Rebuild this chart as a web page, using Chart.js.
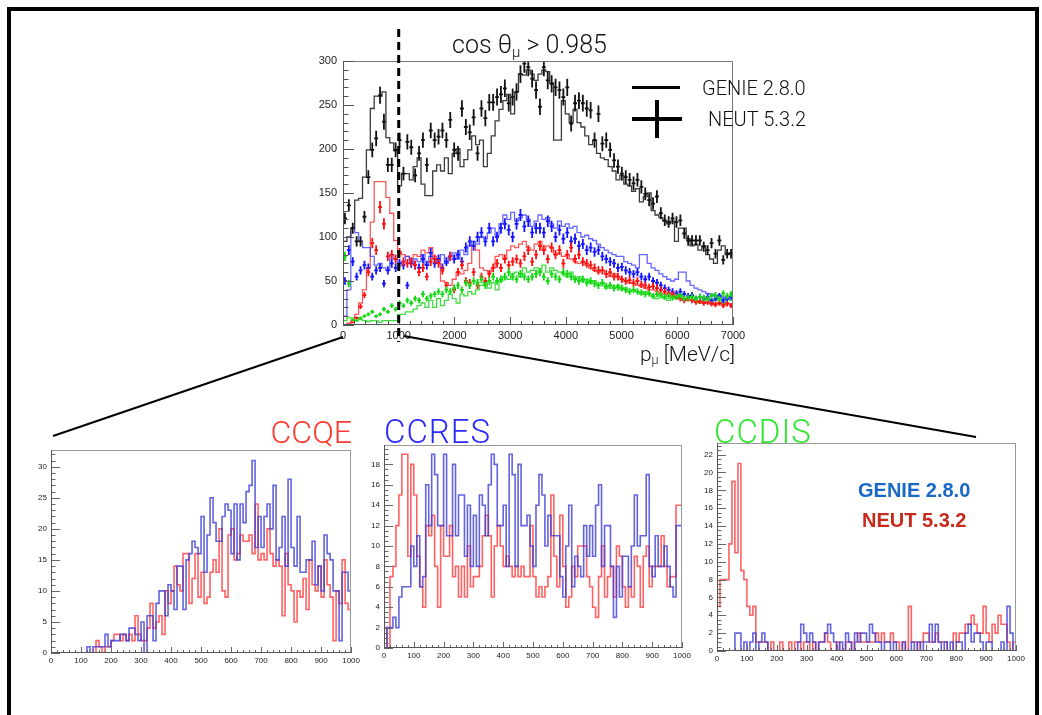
<!DOCTYPE html>
<html>
<head>
<meta charset="utf-8">
<script src="https://cdn.jsdelivr.net/npm/chart.js@4.4.0/dist/chart.umd.min.js"></script>
<style>
  body { margin: 0; width: 1042px; height: 715px; overflow: hidden; position: relative; background: #fff;
         font-family: "Liberation Sans", Arial, sans-serif; }
  canvas { position: absolute; }
  .frame { position: absolute; left: 7px; top: 7px; width: 1032px; height: 800px; border: 4px solid #000; box-sizing: border-box; }
  .txt { position: absolute; white-space: nowrap; line-height: 1; }
  .txt sub { font-size: 0.6em; vertical-align: -0.25em; }
  .light { font-family: Roboto, "Liberation Sans", sans-serif; font-weight: 300; }
  .bar { position: absolute; background: #000; }
</style>
</head>
<body>
<div class="frame"></div>
<canvas id="topChart"></canvas>
<canvas id="ccqeChart"></canvas>
<canvas id="ccresChart"></canvas>
<canvas id="ccdisChart"></canvas>

<div class="txt light" style="left:452px; top:32px; font-size:25px; color:#111;">cos &theta;<sub>&mu;</sub> &gt; 0.985</div>
<div class="txt light" style="right:307px; top:344px; font-size:21px; color:#111;">p<sub>&mu;</sub> [MeV/c]</div>
<div class="bar" style="left:632px; top:86px; width:48px; height:3px;"></div>
<div class="txt light" style="left:702px; top:78px; font-size:20px; color:#111;">GENIE 2.8.0</div>
<div class="bar" style="left:632px; top:117px; width:50px; height:4px;"></div>
<div class="bar" style="left:655px; top:100px; width:4px; height:38px;"></div>
<div class="txt light" style="left:708px; top:109px; font-size:20px; color:#111;">NEUT 5.3.2</div>

<div class="txt light" style="right:690px; top:416px; font-size:32px; color:#ff3b2f;">CCQE</div>
<div class="txt light" style="left:384px; top:415px; font-size:33px; letter-spacing:1px; color:#2a2aff;">CCRES</div>
<div class="txt light" style="left:714px; top:415px; font-size:33px; letter-spacing:1px; color:#33e633;">CCDIS</div>
<div class="txt" style="left:858px; top:480px; font-size:20px; font-weight:bold; color:#1a68c6;">GENIE 2.8.0</div>
<div class="txt" style="left:862px; top:510px; font-size:20px; font-weight:bold; color:#c62a1a;">NEUT 5.3.2</div>

<script>
// muon momentum spectra, cos(theta) > 0.985 ; 100 bins of 70 MeV/c from 0 to 7000
const topBinWidth = 70;
const cutMomentum = 1000;

// GENIE 2.8.0 (histograms)
const genieTotal = [95,100,110,142,144,168,199,246,260,260, 265,213,207,198,158,172,172,165,180,190,
  160,147,147,175,182,175,190,172,195,200, 180,188,199,215,205,210,180,195,215,232,
  245,255,262,240,265,285,284,290,285,278, 285,290,288,275,210,210,255,240,230,245,
  230,225,215,205,210,195,190,188,180,175, 165,170,160,158,152,155,140,146,150,130,
  125,122,118,115,118,95,110,110,98,90, 92,85,90,80,75,70,85,90,80,82];
const genieCCQE = [0,2,5,12,25,40,65,117,163,163, 163,145,127,96,83,80,78,75,80,78,
  85,82,88,78,70,50,48,45,52,60, 58,62,70,90,85,65,62,60,65,78,
  80,75,85,90,88,92,95,88,85,92, 95,85,90,88,80,82,78,80,75,72,
  70,72,68,65,62,60,62,58,55,58, 55,52,50,48,47,45,44,42,40,40,
  38,36,35,33,34,32,30,30,28,28, 27,26,26,25,24,25,24,23,25,24];
const genieCCRES = [10,40,110,105,95,88,88,78,68,70, 65,62,80,75,70,72,78,70,75,72,
  80,68,78,75,72,80,70,78,82,75, 85,80,90,95,92,100,98,105,110,102,
  115,125,120,128,118,122,125,120,112,118, 125,120,122,115,110,118,112,115,110,112,
  105,100,102,98,96,92,88,85,82,80, 78,78,72,70,68,65,80,80,70,65,
  62,58,55,52,50,52,60,60,50,45, 42,40,38,36,35,33,34,32,30,32];
const genieCCDIS = [5,8,8,8,6,5,4,5,5,3, 5,5,5,5,12,12,15,15,18,22,
  25,20,28,20,30,22,28,35,30,25, 35,33,38,35,40,45,48,42,48,40,
  50,55,52,58,60,55,65,60,62,65, 60,68,60,65,62,60,58,55,60,52,
  55,50,52,48,50,45,48,42,45,42, 45,40,42,38,40,38,35,38,35,32,
  30,33,30,28,32,30,35,28,30,32, 28,25,28,30,25,28,32,25,30,28];

// NEUT 5.3.2 (points with errors)
const neutTotal = [121,136,110,95,95,123,168,199,212,261, 231,182,182,199,210,172,208,202,170,195,
  210,182,221,210,214,221,210,233,199,195, 246,225,219,236,195,246,235,253,253,259,
  262,269,252,259,265,285,297,293,280,267, 248,293,278,274,270,267,259,270,229,252,
  255,252,246,244,210,240,206,210,199,187, 180,172,168,165,161,165,157,149,142,138,
  146,127,119,117,121,117,119,104,96,96, 96,96,89,85,93,81,96,74,81,81];
const neutCCQE = [0,0,3,8,21,34,60,93,85,134, 115,78,80,75,82,72,70,72,68,60,
  65,55,72,75,70,62,45,78,40,60, 68,50,48,60,45,55,50,58,65,70,
  65,75,68,72,75,70,78,85,72,80, 90,85,75,88,80,85,70,80,88,75,
  80,72,70,68,65,62,62,58,60,55, 55,52,50,51,48,50,46,45,43,44,
  42,40,38,36,35,32,30,28,30,28, 26,27,25,26,24,23,25,22,24,22];
const neutCCRES = [50,85,72,55,62,68,65,55,62,65, 47,62,70,65,70,68,45,70,68,65,
  75,68,82,70,75,65,72,78,75,80, 72,88,95,90,100,105,95,110,95,100,
  110,115,108,100,115,125,112,118,105,110, 110,105,118,112,100,108,98,105,95,98,
  90,92,85,88,83,85,78,75,72,70, 65,66,62,60,58,60,55,52,55,50,
  48,45,42,40,38,36,38,35,33,34, 30,32,30,32,28,30,33,28,30,32];
const neutCCDIS = [78,47,6,5,8,10,12,15,10,12, 18,15,22,18,25,22,28,25,30,28,
  35,30,33,35,38,35,40,38,42,45, 40,48,45,50,48,52,45,50,55,50,
  52,55,60,55,52,58,55,52,55,58, 60,55,50,58,55,52,60,58,55,52,
  50,52,48,50,47,45,48,44,45,42, 43,42,40,38,40,38,37,35,36,33,
  35,34,32,33,31,32,33,30,31,32, 30,32,31,30,33,34,30,36,33,35];

// low momentum region 0-1000 MeV/c, 10 MeV/c bins
const lowBinWidth = 10;
const ccqeGenie = [0,0,0,0,0,0,0,0,0,0, 0,0,1,0,1,1,1,1,3,1,
  2,2,2,3,3,2,4,4,3,2, 5,0,6,6,2,8,10,10,6,11,
  10,7,14,14,7,15,16,18,17,16, 22,13,19,25,21,18,18,22,24,23,
  16,24,15,24,21,26,27,31,17,22, 17,22,24,20,27,15,17,22,14,28,
  17,14,22,13,13,15,15,18,11,14, 10,19,16,15,10,10,2,13,13,10];
const ccqeNeut = [0,0,0,0,0,0,0,0,0,0, 0,0,0,0,0,2,1,0,1,1,
  2,3,3,2,3,2,3,2,6,3, 2,2,4,8,4,5,6,3,10,8,
  10,14,11,10,16,16,8,12,16,9, 13,8,9,13,15,13,20,10,9,19,
  20,15,16,19,18,18,19,16,24,15, 16,15,20,16,14,15,14,6,16,11,
  10,5,10,9,12,7,15,11,10,14, 9,15,11,9,2,10,8,15,8,7];
const ccresGenie = [0,2,2,3,2,5,6,6,6,10, 8,11,6,7,16,12,19,17,12,12,
  19,11,11,18,11,15,15,9,14,8, 13,8,15,14,11,16,19,18,12,12,
  14,8,19,17,8,18,12,12,13,10, 8,14,17,15,10,13,11,11,11,7,
  5,10,14,6,9,8,7,12,9,12, 9,14,16,8,12,12,8,3,8,5,
  9,9,6,10,15,10,11,11,17,8, 7,11,8,8,10,8,6,5,12,12];
const ccresNeut = [2,0,7,8,12,15,19,19,9,18, 15,9,6,4,12,11,13,8,4,12,
  9,9,12,7,8,5,8,5,10,6, 7,7,8,11,13,11,5,10,12,10,
  8,9,8,7,8,7,8,7,7,12, 7,5,6,5,6,7,15,9,6,13,
  8,4,5,8,7,10,10,10,7,6, 4,3,7,10,5,7,8,5,10,9,
  6,4,6,5,9,8,4,9,10,6, 8,8,8,11,8,6,7,7,14,14];
const ccdisGenie = [0,0,0,0,0,0,2,2,0,1, 0,1,2,0,1,2,1,0,0,0,
  0,0,0,0,0,0,0,1,3,2, 1,2,1,0,1,1,2,3,2,1,
  0,1,0,2,1,0,2,1,2,2, 1,3,2,1,1,0,1,1,0,1,
  0,0,1,0,0,1,0,1,0,1, 1,3,1,3,1,0,1,0,1,0,
  1,1,0,2,3,1,2,2,1,0, 1,1,0,0,0,1,0,5,2,0];
const ccdisNeut = [5,8,8,8,12,19,11,21,9,8, 5,4,5,1,1,1,1,0,1,0,
  0,1,0,0,1,0,1,1,0,1, 1,0,1,0,1,1,2,1,0,0,
  1,0,0,1,1,0,1,2,1,1, 1,1,1,2,1,2,1,1,2,1,
  1,0,1,0,5,1,1,0,1,2, 2,1,1,2,1,1,1,0,0,2,
  1,2,2,3,3,4,3,2,2,5, 2,1,3,2,4,3,3,1,0,1];

// step outline from bin contents (ROOT "HIST" look)
function histOutline(values, width) {
  const pts = [{x: 0, y: 0}];
  values.forEach((v, i) => pts.push({x: i * width, y: v}));
  pts.push({x: values.length * width, y: values[values.length - 1]});
  return pts;
}
function binCentres(values, width) {
  return values.map((v, i) => ({x: (i + 0.5) * width, y: v}));
}
function histDataset(values, width, color, lw) {
  return { data: histOutline(values, width), borderColor: color, borderWidth: lw,
           stepped: 'before', pointRadius: 0, fill: false };
}
function pointsDataset(values, width, color) {
  return { data: binCentres(values, width), showLine: false, pointRadius: 0,
           crossColor: color, binWidth: width };
}

// data points drawn as error crosses (bin width x stat. error)
const crossPlugin = {
  id: 'crosses',
  afterDatasetsDraw(chart) {
    const {ctx, chartArea: a} = chart;
    const xs = chart.scales.x, ys = chart.scales.y;
    ctx.save();
    ctx.beginPath();
    ctx.rect(a.left, a.top, a.width, a.height);
    ctx.clip();
    ctx.lineWidth = 1.8;
    chart.data.datasets.forEach(ds => {
      if (!ds.crossColor) return;
      ctx.strokeStyle = ds.crossColor;
      ctx.beginPath();
      ds.data.forEach(p => {
        if (p.y <= 0) return;
        const err = 0.6 * Math.sqrt(p.y);
        const px = xs.getPixelForValue(p.x);
        const py = ys.getPixelForValue(p.y);
        ctx.moveTo(xs.getPixelForValue(p.x - ds.binWidth / 2), py);
        ctx.lineTo(xs.getPixelForValue(p.x + ds.binWidth / 2), py);
        ctx.moveTo(px, ys.getPixelForValue(p.y + err));
        ctx.lineTo(px, ys.getPixelForValue(Math.max(0, p.y - err)));
      });
      ctx.stroke();
    });
    ctx.restore();
  }
};

// frame and inward tick marks
const rootAxes = {
  id: 'rootAxes',
  afterDraw(chart, args, o) {
    const {ctx, chartArea: a} = chart;
    const xs = chart.scales.x, ys = chart.scales.y;
    ctx.save();
    ctx.lineWidth = 1;
    ctx.strokeStyle = o.frameColor;
    ctx.strokeRect(Math.round(a.left) + 0.5, Math.round(a.top) + 0.5,
                   Math.round(a.width) - 1, Math.round(a.height) - 1);
    ctx.strokeStyle = o.tickColor;
    ctx.beginPath();
    const ny = Math.floor((ys.max - ys.min) / o.yMinor + 1e-6);
    for (let i = 0; i <= ny; i++) {
      const v = ys.min + i * o.yMinor;
      const major = Math.abs(v / o.yMajor - Math.round(v / o.yMajor)) < 1e-6;
      const py = Math.round(ys.getPixelForValue(v)) + 0.5;
      ctx.moveTo(a.left, py);
      ctx.lineTo(a.left + (major ? o.yLen : o.yLen * 0.5), py);
    }
    const nx = Math.floor((xs.max - xs.min) / o.xMinor + 1e-6);
    for (let i = 0; i <= nx; i++) {
      const v = xs.min + i * o.xMinor;
      const major = Math.abs(v / o.xMajor - Math.round(v / o.xMajor)) < 1e-6;
      const px = Math.round(xs.getPixelForValue(v)) + 0.5;
      ctx.moveTo(px, a.bottom);
      ctx.lineTo(px, a.bottom - (major ? o.xLen : o.xLen * 0.5));
    }
    ctx.stroke();
    ctx.strokeStyle = o.axisColor;
    ctx.beginPath();
    ctx.moveTo(Math.round(a.left) + 0.5, a.top);
    ctx.lineTo(Math.round(a.left) + 0.5, Math.round(a.bottom) - 0.5);
    ctx.lineTo(a.right, Math.round(a.bottom) - 0.5);
    ctx.stroke();
    ctx.restore();
  }
};

// cut line at 1000 MeV/c and the lines leading to the zoomed panels
const guides = {
  id: 'guides',
  afterDraw(chart) {
    const {ctx} = chart;
    const xs = chart.scales.x;
    const xCut = xs.getPixelForValue(cutMomentum);
    const x0 = xs.getPixelForValue(0);
    ctx.save();
    ctx.strokeStyle = '#000';
    ctx.lineWidth = 2;
    ctx.beginPath();
    ctx.moveTo(x0, 337);
    ctx.lineTo(53, 436);
    ctx.moveTo(xCut + 5, 336);
    ctx.lineTo(976, 437);
    ctx.stroke();
    ctx.setLineDash([8, 5]);
    ctx.lineWidth = 3;
    ctx.beginPath();
    ctx.moveTo(xCut, 29);
    ctx.lineTo(xCut, 342);
    ctx.stroke();
    ctx.restore();
  }
};

// size a canvas so that its plot area lands on the given rectangle
function placeCanvas(id, box, plot, yW, xH) {
  const c = document.getElementById(id);
  c.style.left = box.x + 'px';
  c.style.top = box.y + 'px';
  c.width = box.w;
  c.height = box.h;
  return { left: plot.l - box.x - yW, right: box.x + box.w - plot.r,
           top: plot.t - box.y, bottom: box.y + box.h - plot.b - xH };
}

function makeChart(id, box, plot, cfg) {
  const yW = cfg.yW, xH = cfg.xH;
  const padding = placeCanvas(id, box, plot, yW, xH);
  const tickFont = { family: 'Liberation Sans', size: cfg.fontSize };
  const plain = v => String(v);
  return new Chart(document.getElementById(id).getContext('2d'), {
    type: 'line',
    data: { datasets: cfg.datasets },
    options: {
      responsive: false,
      animation: false,
      events: [],
      layout: { padding },
      plugins: {
        legend: { display: false },
        tooltip: { enabled: false },
        rootAxes: cfg.axes
      },
      scales: {
        x: {
          type: 'linear', min: cfg.xMin, max: cfg.xMax,
          grid: { display: false, drawTicks: false }, border: { display: false },
          ticks: { stepSize: cfg.axes.xMajor, autoSkip: false, maxRotation: 0, includeBounds: false,
                   padding: cfg.xPad, color: '#222', font: tickFont, callback: plain },
          afterFit: s => { s.height = xH; }
        },
        y: {
          type: 'linear', min: 0, max: cfg.yMax,
          grid: { display: false, drawTicks: false }, border: { display: false },
          ticks: { stepSize: cfg.axes.yMajor, includeBounds: false,
                   padding: cfg.yPad, color: '#222', font: tickFont, callback: plain },
          afterFit: s => { s.width = yW; }
        }
      }
    },
    plugins: cfg.plugins
  });
}

const blackLine = '#3a3a3a', redLine = 'rgba(255,45,45,0.8)',
      blueLine = 'rgba(50,50,255,0.75)', greenLine = 'rgba(30,215,30,0.85)';

makeChart('topChart', {x: 0, y: 0, w: 1042, h: 715}, {l: 343, r: 733, t: 61, b: 325}, {
  yW: 40, xH: 22, fontSize: 11, xPad: 4, yPad: 6, xMin: 0, xMax: 7000, yMax: 300,
  axes: { xMajor: 1000, xMinor: 200, yMajor: 50, yMinor: 10, xLen: 8, yLen: 11,
          frameColor: '#777', tickColor: '#555', axisColor: '#555' },
  datasets: [
    histDataset(genieTotal, topBinWidth, blackLine, 1.3),
    histDataset(genieCCRES, topBinWidth, blueLine, 1.3),
    histDataset(genieCCQE, topBinWidth, redLine, 1.3),
    histDataset(genieCCDIS, topBinWidth, greenLine, 1.3),
    pointsDataset(neutTotal, topBinWidth, '#111'),
    pointsDataset(neutCCRES, topBinWidth, '#1414ff'),
    pointsDataset(neutCCQE, topBinWidth, '#ff1010'),
    pointsDataset(neutCCDIS, topBinWidth, '#12d812')
  ],
  plugins: [crossPlugin, rootAxes, guides]
});

const lowAxes = { xMajor: 100, xMinor: 20, xLen: 6, yLen: 9, frameColor: '#999', tickColor: '#666', axisColor: '#555' };
const lowBlue = 'rgba(60,60,215,0.8)', lowRed = 'rgba(255,70,70,0.85)';

makeChart('ccqeChart', {x: 18, y: 438, w: 345, h: 235}, {l: 51, r: 352, t: 450, b: 653}, {
  yW: 24, xH: 14, fontSize: 8, xPad: 3, yPad: 4, xMin: 0, xMax: 1000, yMax: 32.7,
  axes: Object.assign({ yMajor: 5, yMinor: 1 }, lowAxes),
  datasets: [
    histDataset(ccqeGenie, lowBinWidth, lowBlue, 1.6),
    histDataset(ccqeNeut, lowBinWidth, lowRed, 1.6)
  ],
  plugins: [rootAxes]
});

makeChart('ccresChart', {x: 352, y: 433, w: 345, h: 235}, {l: 384, r: 682, t: 445, b: 648}, {
  yW: 24, xH: 14, fontSize: 8, xPad: 3, yPad: 4, xMin: 0, xMax: 1000, yMax: 19.9,
  axes: Object.assign({ yMajor: 2, yMinor: 0.5 }, lowAxes),
  datasets: [
    histDataset(ccresGenie, lowBinWidth, lowBlue, 1.6),
    histDataset(ccresNeut, lowBinWidth, lowRed, 1.6)
  ],
  plugins: [rootAxes]
});

makeChart('ccdisChart', {x: 685, y: 431, w: 345, h: 240}, {l: 717, r: 1016, t: 443, b: 651}, {
  yW: 24, xH: 14, fontSize: 8, xPad: 3, yPad: 4, xMin: 0, xMax: 1000, yMax: 23.3,
  axes: Object.assign({ yMajor: 2, yMinor: 0.5 }, lowAxes),
  datasets: [
    histDataset(ccdisGenie, lowBinWidth, lowBlue, 1.6),
    histDataset(ccdisNeut, lowBinWidth, lowRed, 1.6)
  ],
  plugins: [rootAxes]
});
</script>
</body>
</html>
